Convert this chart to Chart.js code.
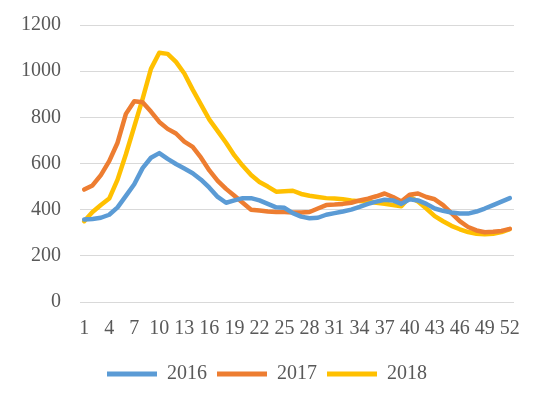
<!DOCTYPE html>
<html lang="en">
<head>
    <meta charset="UTF-8">
    <title>Weekly counts 2016-2018</title>
    <style>
        body {
            margin: 0;
            background: #ffffff;
        }

        .container {
            width: 550px;
            height: 396px;
            position: relative;
        }
    </style>
</head>
<body>
    <div class="container">
        <canvas id="weekly-chart"></canvas>
    </div>

    <script src="https://cdn.jsdelivr.net/npm/chart.js"></script>
    <script>
        // week numbers 1..52
        const weeks = [
            1, 2, 3, 4, 5, 6, 7, 8, 9, 10, 11, 12, 13, 14, 15, 16, 17, 18, 19, 20, 21, 22, 23, 24, 25, 26,
            27, 28, 29, 30, 31, 32, 33, 34, 35, 36, 37, 38, 39, 40, 41, 42, 43, 44, 45, 46, 47, 48, 49, 50, 51, 52
        ];

        const values2016 = [
            357, 360, 365, 378, 410, 460, 510, 580, 625, 645, 620, 598, 578, 558, 530, 495, 455, 430, 440, 450,
            450, 440, 425, 410, 408, 385, 370, 363, 365, 378, 385, 392, 400, 412, 425, 435, 443, 440, 425, 445,
            440, 425, 405, 395, 388, 383, 383, 392, 405, 420, 435, 450
        ];

        const values2017 = [
            487, 505, 550, 610, 690, 815, 870, 865, 825, 780, 750, 730, 695, 672, 625, 570, 525, 490, 460, 430,
            400, 396, 392, 390, 390, 388, 388, 390, 405, 420, 422, 425, 430, 440, 448, 458, 470, 455, 435, 465,
            470, 455, 445, 420, 385, 350, 325, 310, 302, 304, 308, 317
        ];

        const values2018 = [
            350, 390, 420, 448, 530, 640, 760, 880, 1010, 1080, 1075, 1040, 990, 920, 855, 790, 740, 690, 635, 590,
            550, 520, 500, 478, 480, 482, 468, 460, 455, 450, 448, 445, 440, 437, 435, 430, 426, 420, 415, 455,
            435, 405, 372, 350, 330, 315, 303, 296, 294, 296, 303, 316
        ];

        const yTicks = [0, 200, 400, 600, 800, 1000, 1200];

        const textColor = '#595959';
        const serif = "'Liberation Serif', 'Times New Roman', serif";

        function series(label, data, color) {
            return {
                label: label,
                data: data,
                borderColor: color,
                backgroundColor: color,
                borderWidth: 4.5,
                pointRadius: 0,
                tension: 0,
                borderJoinStyle: 'round',
                borderCapStyle: 'round',
                fill: false
            };
        }

        const ctx = document.getElementById('weekly-chart').getContext('2d');

        new Chart(ctx, {
            type: 'line',
            data: {
                labels: weeks,
                datasets: [
                    series('2016', values2016, '#5B9BD5'),
                    series('2017', values2017, '#ED7D31'),
                    series('2018', values2018, '#FFC000')
                ]
            },
            options: {
                responsive: true,
                maintainAspectRatio: false,
                animation: false,
                layout: {
                    padding: { left: 20, right: 36, top: 25, bottom: 2 }
                },
                plugins: {
                    tooltip: { enabled: false },
                    legend: {
                        position: 'bottom',
                        labels: {
                            color: textColor,
                            font: { family: serif, size: 20 },
                            boxWidth: 50,
                            boxHeight: 5,
                            padding: 10,
                            useBorderRadius: true,
                            borderRadius: 2.5,
                            generateLabels: function (chart) {
                                return chart.data.datasets.map(function (ds, i) {
                                    return {
                                        text: ds.label,
                                        fillStyle: ds.borderColor,
                                        strokeStyle: ds.borderColor,
                                        lineWidth: 0,
                                        fontColor: textColor,
                                        datasetIndex: i
                                    };
                                });
                            }
                        }
                    }
                },
                scales: {
                    x: {
                        offset: true,
                        afterFit: function (scale) { scale.height = 52; },
                        grid: { display: false, drawTicks: false },
                        border: { display: false },
                        ticks: {
                            color: textColor,
                            font: { family: serif, size: 20 },
                            padding: 15,
                            autoSkip: false,
                            maxRotation: 0,
                            callback: function (value, index) {
                                return index % 3 === 0 ? weeks[index] : '';
                            }
                        }
                    },
                    y: {
                        min: yTicks[0],
                        max: yTicks[yTicks.length - 1],
                        afterFit: function (scale) { scale.width = 60; },
                        afterBuildTicks: function (scale) {
                            scale.ticks = yTicks.map(function (v) { return { value: v }; });
                        },
                        // invisible tick marks push the labels away from the plot
                        grid: { color: '#d9d9d9', lineWidth: 1, drawTicks: true, tickLength: 16, tickColor: 'rgba(0,0,0,0)' },
                        border: { display: false },
                        ticks: {
                            color: textColor,
                            font: { family: serif, size: 20 },
                            padding: 3,
                            callback: function (value) { return String(value); }
                        }
                    }
                }
            }
        });
    </script>
</body>
</html>
